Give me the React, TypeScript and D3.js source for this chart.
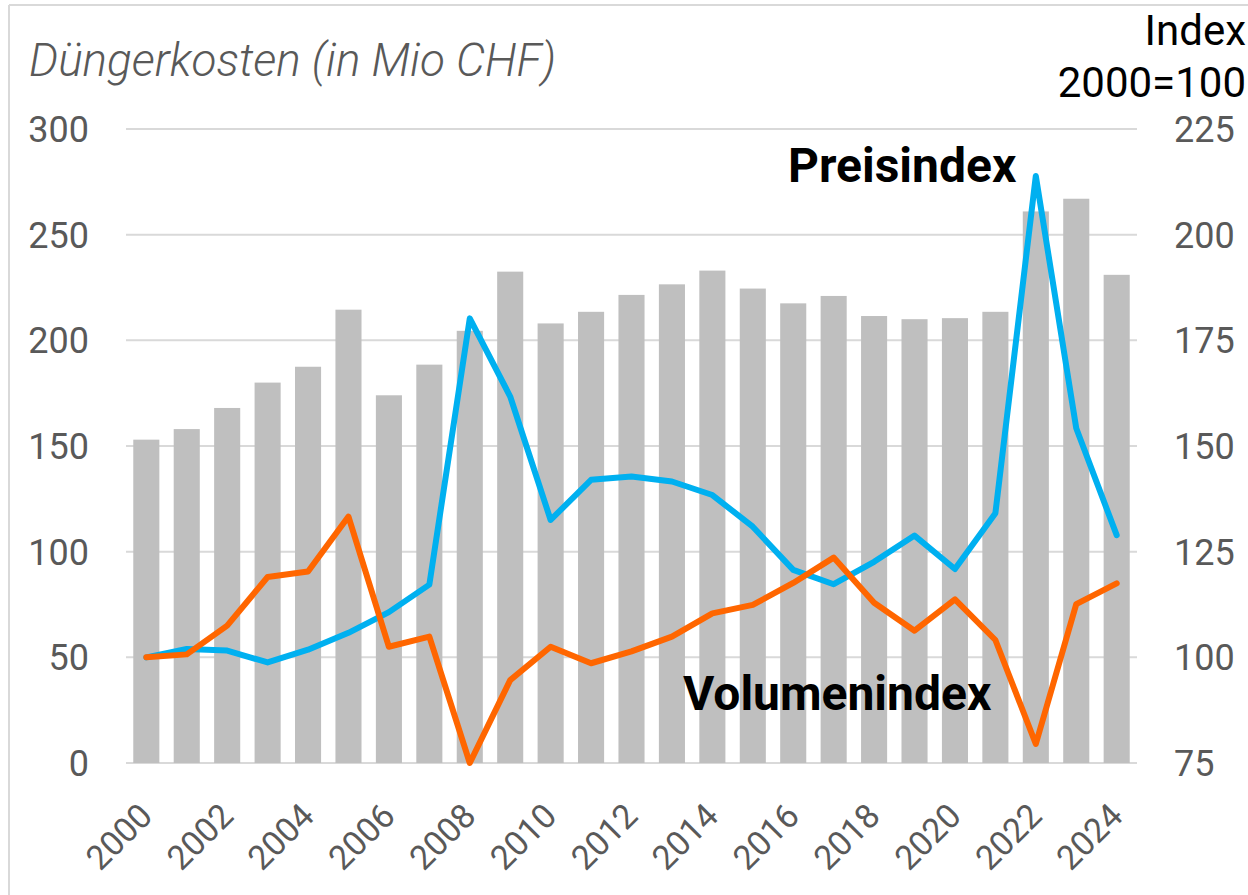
import React from "react";
import * as d3 from "d3";

const years: number[] = [2000, 2001, 2002, 2003, 2004, 2005, 2006, 2007, 2008, 2009, 2010, 2011, 2012, 2013, 2014, 2015, 2016, 2017, 2018, 2019, 2020, 2021, 2022, 2023, 2024];
const kosten: number[] = [153, 158, 168, 180, 187.5, 214.5, 174, 188.5, 204.5, 232.5, 208, 213.5, 221.5, 226.5, 233, 224.5, 217.5, 221, 211.5, 210, 210.5, 213.5, 261, 267, 231];
const preisindex: number[] = [100, 102, 101.6, 98.8, 101.8, 105.8, 110.7, 117.2, 180.2, 161.7, 132.5, 142, 142.8, 141.6, 138.4, 130.9, 120.7, 117.3, 122.6, 128.8, 120.9, 134.1, 213.9, 154.2, 128.9];
const volumenindex: number[] = [100, 100.7, 107.5, 119, 120.3, 133.3, 102.5, 104.9, 75, 94.6, 102.5, 98.6, 101.4, 104.9, 110.4, 112.4, 117.6, 123.6, 112.9, 106.3, 113.7, 104.1, 79.5, 112.6, 117.5];
const leftTicks: number[] = [0, 50, 100, 150, 200, 250, 300];
const rightTicks: number[] = [75, 100, 125, 150, 175, 200, 225];
const yearLabels: number[] = years.filter((y) => y % 2 === 0);

const W = 1248;
const H = 895;
const plotL = 126;
const plotR = 1137;
const plotT = 129;
const plotB = 763;

export default function App() {
  const x = d3.scaleBand<number>().domain(years).range([plotL, plotR]).paddingInner(0.355).paddingOuter(0.18);
  const yL = d3.scaleLinear().domain([0, 300]).range([plotB, plotT]);
  const yR = d3.scaleLinear().domain([75, 225]).range([plotB, plotT]);
  const cx = (yr: number) => (x(yr) as number) + x.bandwidth() / 2;
  const line = d3
    .line<number>()
    .x((_, i) => cx(years[i]))
    .y((v) => yR(v));
  const font = "Roboto, 'Noto Sans', sans-serif";
  const gray = "#595959";
  return (
    <svg width={W} height={H} style={{ position: "fixed", left: 0, top: 0, background: "#fff" }} fontFamily={font}>
      <rect x={0} y={0} width={W} height={H} fill="#fff" />
      <line x1={9} x2={W} y1={5} y2={5} stroke="#d9d9d9" strokeWidth={2} />
      <line x1={9} x2={9} y1={5} y2={H} stroke="#d9d9d9" strokeWidth={2} />
      {leftTicks.map((t) => (
        <line key={"g" + t} x1={plotL} x2={plotR} y1={yL(t)} y2={yL(t)} stroke="#d9d9d9" strokeWidth={2} />
      ))}
      {years.map((yr, i) => (
        <rect key={"b" + yr} x={x(yr)} y={yL(kosten[i])} width={x.bandwidth()} height={yL(0) - yL(kosten[i])} fill="#bfbfbf" />
      ))}
      <path d={line(preisindex) || ""} fill="none" stroke="#00b0f0" strokeWidth={6} strokeLinejoin="round" strokeLinecap="round" />
      <path d={line(volumenindex) || ""} fill="none" stroke="#ff6600" strokeWidth={6} strokeLinejoin="round" strokeLinecap="round" />
      {leftTicks.map((t) => (
        <text key={"l" + t} x={89} y={yL(t)} dy="0.36em" textAnchor="end" fontSize={36} fill={gray}>
          {t}
        </text>
      ))}
      {rightTicks.map((t) => (
        <text key={"r" + t} x={1174} y={yR(t)} dy="0.36em" textAnchor="start" fontSize={36} fill={gray}>
          {t}
        </text>
      ))}
      {yearLabels.map((yr) => (
        <text key={"x" + yr} transform={`translate(${cx(yr) + 8},818) rotate(-45)`} textAnchor="end" fontSize={34} fill={gray}>
          {yr}
        </text>
      ))}
      <text x={29} y={76} fontSize={46} fontStyle="italic" fontWeight={300} fill={gray} textLength={527} lengthAdjust="spacingAndGlyphs">
        Düngerkosten (in Mio CHF)
      </text>
      <text x={1246} y={45} textAnchor="end" fontSize={42} fill="#000">
        Index
      </text>
      <text x={1246} y={97} textAnchor="end" fontSize={42} fill="#000">
        2000=100
      </text>
      <text x={788} y={182} fontSize={48} fontWeight={700} fill="#000">
        Preisindex
      </text>
      <text x={683} y={710} fontSize={48} fontWeight={700} fill="#000">
        Volumenindex
      </text>
    </svg>
  );
}
